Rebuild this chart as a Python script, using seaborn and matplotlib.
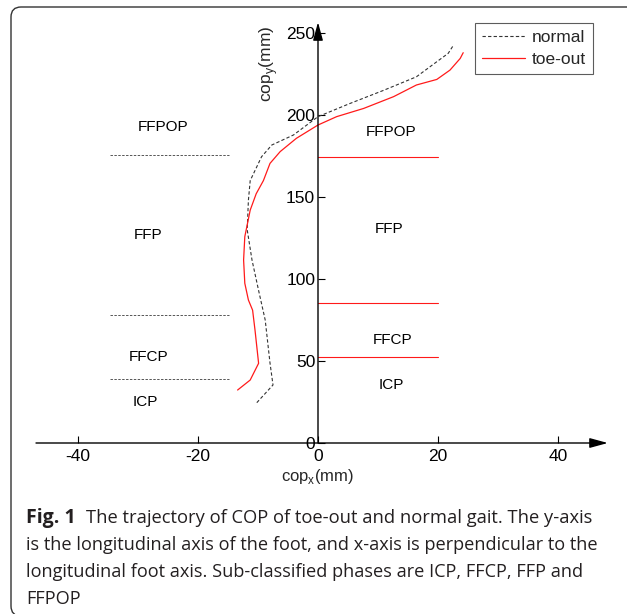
import matplotlib
matplotlib.use('Agg')
import matplotlib.pyplot as plt
from matplotlib.patches import FancyBboxPatch
from matplotlib.transforms import IdentityTransform
import pandas as pd
import seaborn as sns

# COP trajectories (heel -> toe)
normal_x = [-10.2, -7.5, -8.0, -8.8, -9.9, -11.0, -11.8, -11.6, -11.3, -9.4, -7.7, -4.1, 0.0, 5.3, 10.9, 16.4, 19.8, 21.7, 22.6]
normal_y = [24.6, 35.4, 48.8, 75.0, 93.0, 111.6, 130.0, 148.0, 160.0, 174.6, 181.7, 187.8, 199.0, 207.0, 215.0, 223.3, 232.5, 237.6, 242.7]

toe_x = [-13.4, -11.3, -9.9, -10.5, -10.9, -11.6, -12.2, -12.4, -12.2, -11.3, -10.3, -9.1, -8.0, -6.3, -3.6, 0.0, 3.1, 7.6, 12.6, 16.4, 19.8, 22.0, 23.7, 24.2]
toe_y = [32.3, 38.4, 48.6, 68.9, 81.0, 87.2, 97.4, 111.6, 125.8, 142.0, 152.0, 160.0, 170.5, 177.7, 185.8, 193.9, 199.0, 204.0, 211.2, 218.3, 221.7, 227.4, 234.5, 238.0]

# phase boundaries (cop_y, mm)
normal_bounds = [39.0, 78.0, 175.5]
toeout_bounds = [52.4, 85.4, 174.4]

phases = ['ICP', 'FFCP', 'FFP', 'FFPOP']

xticks = [-40, -20, 0, 20, 40]
yticks = [0, 50, 100, 150, 200, 250]

caption_lines = [
    'The trajectory of COP of toe-out and normal gait. The y-axis',
    'is the longitudinal axis of the foot, and x-axis is perpendicular to the',
    'longitudinal foot axis. Sub-classified phases are ICP, FFCP, FFP and',
    'FFPOP',
]

sns.set_theme(style='white')
plt.rcParams['font.family'] = ['Liberation Sans', 'DejaVu Sans']
plt.rcParams['mathtext.fontset'] = 'custom'
plt.rcParams['mathtext.rm'] = 'Liberation Sans'
plt.rcParams['axes.unicode_minus'] = False

fig = plt.figure(figsize=(6.27, 6.14), dpi=100)
ax = fig.add_axes([30 / 627, (614 - 451.2) / 614, 588 / 627, (451.2 - 19.9) / 614])
ax.set_xlim(-48, 50)
ax.set_ylim(-5, 258)

df_n = pd.DataFrame({'x': normal_x, 'y': normal_y})
df_t = pd.DataFrame({'x': toe_x, 'y': toe_y})
sns.lineplot(data=df_n, x='x', y='y', sort=False, estimator=None, ax=ax,
             color='#333333', lw=0.8, linestyle=(0, (3, 2)), label='normal')
sns.lineplot(data=df_t, x='x', y='y', sort=False, estimator=None, ax=ax,
             color='#ff1a1a', lw=0.9, label='toe-out')

# phase boundaries
for b in normal_bounds:
    ax.plot([-34.7, -14.8], [b, b], color='#555555', lw=0.7, linestyle=(0, (2.5, 1.5)))
for b in toeout_bounds:
    ax.plot([0, 20], [b, b], color='#ff1a1a', lw=0.8)

left_pos = [(-28.8, 25.2), (-28.3, 52.6), (-28.4, 126.8), (-25.9, 192.9)]
right_pos = [(12.3, 35.4), (12.5, 62.8), (11.8, 130.5), (12.2, 189.6)]
for name, (px, py) in zip(phases, left_pos):
    ax.text(px, py, name, ha='center', va='center', fontsize=11, color='black')
for name, (px, py) in zip(phases, right_pos):
    ax.text(px, py, name, ha='center', va='center', fontsize=11, color='black')

# axes through the origin with arrow heads
for s in ax.spines.values():
    s.set_visible(False)
ax.spines['left'].set_position(('data', 0))
ax.spines['bottom'].set_position(('data', 0))
arrow = dict(arrowstyle='-|>,head_length=1.1,head_width=0.3', color='black', lw=1.0,
             shrinkA=0, shrinkB=0, mutation_scale=10)
ax.annotate('', xy=(48.3, 0), xytext=(-47, 0), arrowprops=arrow, annotation_clip=False)
ax.annotate('', xy=(0, 256.6), xytext=(0, 0), arrowprops=arrow, annotation_clip=False)

ax.set_xticks(xticks)
ax.set_yticks(yticks)
ax.tick_params(axis='both', direction='in', length=5, width=0.8, colors='black',
               labelsize=12.5, left=True, bottom=True)
ax.tick_params(axis='x', pad=4)
ax.tick_params(axis='y', pad=2)
ax.set_xlabel('')
ax.set_ylabel('')
ax.grid(False)

ax.text(0, -20.5, r'cop$_\mathregular{x}$(mm)', ha='center', va='center', fontsize=12,
        clip_on=False)
ax.text(-8.3, 231, r'cop$_\mathregular{y}$(mm)', ha='center', va='center', fontsize=12.5,
        rotation=90, clip_on=False)

leg = ax.legend(loc='upper right', bbox_to_anchor=(593 / 627, (614 - 23) / 614),
                bbox_transform=fig.transFigure, fontsize=12.5, frameon=True, fancybox=False,
                handlelength=2.5, handletextpad=0.4, borderpad=0.4, labelspacing=0.4,
                borderaxespad=0)
leg.get_frame().set_edgecolor('#333333')
leg.get_frame().set_linewidth(0.8)

# caption
cap_font = ['Open Sans', 'DejaVu Sans']
base = [523, 550, 577, 604]
fig.text(26 / 627, (614 - base[0]) / 614, 'Fig. 1', fontsize=14, fontweight='bold',
         family=cap_font, color='#231f20', va='baseline')
fig.text(86 / 627, (614 - base[0]) / 614, caption_lines[0], fontsize=13.2,
         family=cap_font, color='#231f20', va='baseline')
for line, b in zip(caption_lines[1:], base[1:]):
    fig.text(26 / 627, (614 - b) / 614, line, fontsize=13.1, family=cap_font,
             color='#231f20', va='baseline')

box = FancyBboxPatch((11, -2), 640, 609, boxstyle='round,pad=0,rounding_size=10',
                     transform=IdentityTransform(), fill=False, ec='#333333', lw=1.0)
fig.patches.append(box)

fig.savefig('out.png', dpi=100)
